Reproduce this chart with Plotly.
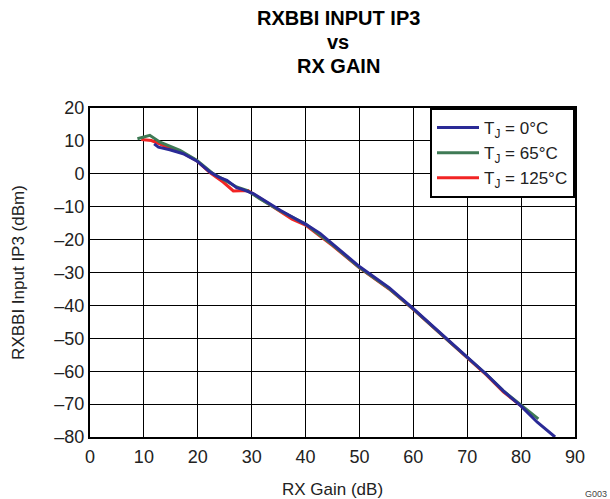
import plotly.graph_objects as go

# RXBBI input IP3 versus RX gain, three junction temperatures
gain_0c = [11.9, 12.7, 14.8, 17.3, 19.8, 22.3, 24.1, 25.4, 27.2, 28.4, 30.3, 32.8, 35.3,
           38.3, 40, 42.7, 45, 50, 55.5, 60, 66.8, 70, 73.6, 76.7, 80, 83, 86.3]
ip3_0c = [9.1, 8.1, 7.3, 6.1, 3.9, 0.5, -1.2, -2.0, -4.2, -4.8, -6.0, -8.6, -11.1,
          -13.8, -15.3, -18.1, -21.3, -28.2, -34.6, -41.0, -51.0, -55.7, -61.0, -66.0,
          -70.6, -75.5, -80.0]

gain_65c = [8.8, 11.1, 13, 16.7, 19.8, 22.9, 25.4, 27.2, 29.1, 31.5, 35, 37.5, 40, 45,
            50, 55.5, 60, 66.8, 70, 73.6, 76.7, 80, 83.2]
ip3_65c = [10.65, 11.7, 9.6, 7.1, 4.1, 0.0, -2.3, -4.0, -5.0, -7.6, -11.0, -13.2, -15.3,
           -21.6, -28.5, -34.9, -41.1, -51.2, -55.8, -61.0, -66.0, -70.4, -74.5]

gain_125c = [9.5, 11.4, 13, 15, 17.3, 19.8, 22.3, 24.7, 26.6, 29.3, 32.1, 35, 37.5, 40,
             45, 50, 55.5, 60, 66.8, 70, 73.6, 76.7, 80.5]
ip3_125c = [10.4, 10.1, 9.0, 7.6, 6.3, 4.0, 0.3, -2.5, -5.2, -5.1, -8.0, -11.0, -13.8,
            -15.6, -21.8, -28.6, -35.0, -41.2, -51.2, -56.0, -61.2, -66.3, -71.2]

x_ticks = [0, 10, 20, 30, 40, 50, 60, 70, 80, 90]
y_ticks = [20, 10, 0, -10, -20, -30, -40, -50, -60, -70, -80]
y_tick_text = [str(v).replace("-", "\u2013") for v in y_ticks]

FONT = "Liberation Sans, Arial, sans-serif"
W, H = 610, 499
M_L, M_R, M_T, M_B = 90, 35, 108, 62
PLOT_W = W - M_L - M_R
PLOT_H = H - M_T - M_B


def paper_x(pix):
    """Convert a pixel column (from the left of the page) to paper x."""
    return (pix - M_L) / PLOT_W


def paper_y(pix):
    """Convert a pixel row (from the top of the page) to paper y."""
    return (H - M_B - pix) / PLOT_H


fig = go.Figure()
# legend order: 0°C, 65°C, 125°C; drawn with the 0°C trace on top
fig.add_trace(go.Scatter(x=gain_125c, y=ip3_125c, mode="lines", name="T<sub>J</sub> = 125°C",
                         line=dict(color="#f22424", width=3), legendrank=3))
fig.add_trace(go.Scatter(x=gain_65c, y=ip3_65c, mode="lines", name="T<sub>J</sub> = 65°C",
                         line=dict(color="#3f7a55", width=3), legendrank=2))
fig.add_trace(go.Scatter(x=gain_0c, y=ip3_0c, mode="lines", name="T<sub>J</sub> = 0°C",
                         line=dict(color="#2a2a96", width=3), legendrank=1))

fig.update_layout(
    width=W, height=H,
    margin=dict(l=M_L, r=M_R, t=M_T, b=M_B, autoexpand=False),
    paper_bgcolor="white", plot_bgcolor="white",
    font=dict(family=FONT, size=18, color="#222"),
    showlegend=True,
    legend=dict(x=1, y=1, xanchor="right", yanchor="top", bgcolor="white",
                bordercolor="black", borderwidth=2, font=dict(size=17),
                itemwidth=42, traceorder="normal", tracegroupgap=0),
    xaxis=dict(range=[0, 90], tickvals=x_ticks, showgrid=True, gridcolor="black",
               gridwidth=1, showline=True, linecolor="black", linewidth=2, mirror=True,
               zeroline=False, ticks="", ticklabelstandoff=2, automargin=False,
               title=dict(text="RX Gain (dB)", standoff=29, font=dict(size=17))),
    yaxis=dict(range=[-80, 20], tickvals=y_ticks, ticktext=y_tick_text, showgrid=True,
               gridcolor="black", gridwidth=1, showline=True, linecolor="black",
               linewidth=2, mirror=True, zeroline=False, ticks="", automargin=False,
               title=dict(text="RXBBI Input IP3 (dBm)", standoff=25, font=dict(size=17))),
)

title_lines = ["RXBBI INPUT IP3", "vs", "RX GAIN"]
title_y = [18, 42, 66]
for text, ypix in zip(title_lines, title_y):
    fig.add_annotation(text=f"<b>{text}</b>", x=paper_x(338), xref="paper",
                       y=paper_y(ypix), yref="paper", yanchor="middle",
                       showarrow=False, font=dict(size=20, color="black"))

# figure code in the lower right corner
fig.add_annotation(text="G003", x=paper_x(583), xref="paper", xanchor="left",
                   y=paper_y(487), yref="paper", yanchor="top",
                   showarrow=False, font=dict(size=9, color="#444"))

fig.write_html("out.html")
